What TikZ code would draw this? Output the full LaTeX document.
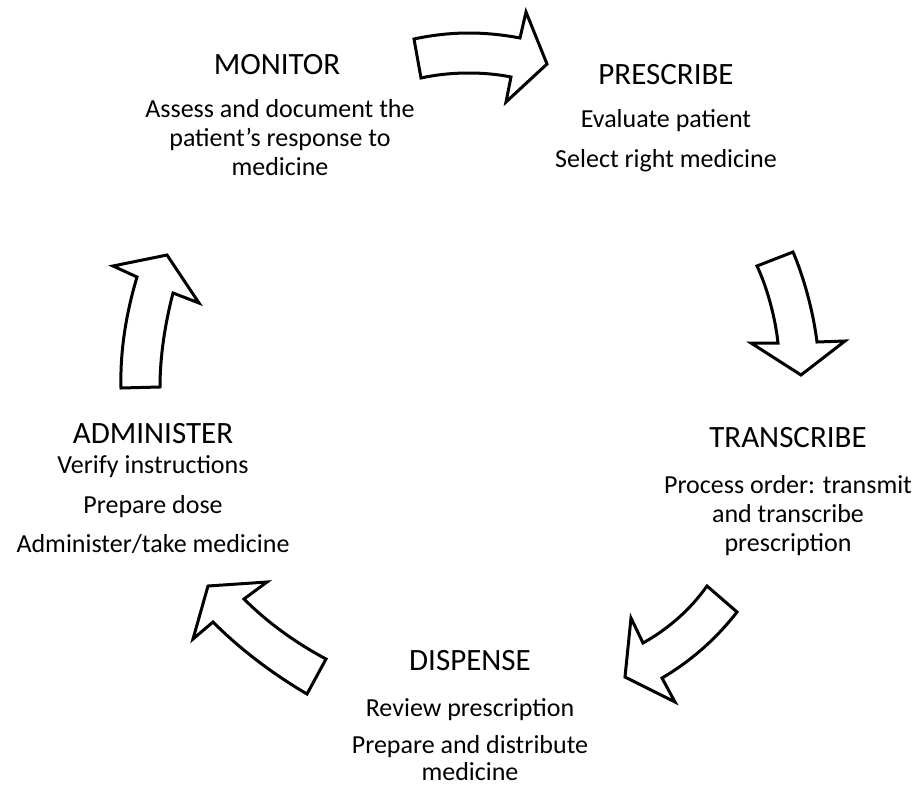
\documentclass[tikz,border=0pt]{standalone}
\usepackage{fontspec}
\setmainfont{Carlito}
\begin{document}
\begin{tikzpicture}[x=1pt,y=-1pt,
  title/.style={font=\fontsize{31}{36}\selectfont, anchor=base, inner sep=0pt},
  body/.style={font=\fontsize{26}{30}\selectfont, anchor=base, inner sep=0pt},
  bigarrow/.style={draw=black, line width=3pt, fill=white, line join=miter}]
\useasboundingbox[fill=white] (0,0) rectangle (915,787);

% arrow 1: MONITOR -> PRESCRIBE
\draw[bigarrow] (414,39) -- (421,78) .. controls (450,71.5) and (484,71.5) .. (511,77)
  -- (506,102) -- (547,64) -- (526,12) -- (520,38)
  .. controls (484,31.2) and (450,31.2) .. (414,39) -- cycle;

% arrow 2: PRESCRIBE -> TRANSCRIBE
\draw[bigarrow] (757,266) -- (793,252) .. controls (803,275) and (813,310) .. (817,342)
  -- (845,341) -- (801,375) -- (751,343) -- (778,343)
  .. controls (775,315) and (766,285) .. (757,266) -- cycle;

% arrow 3: TRANSCRIBE -> DISPENSE
\draw[bigarrow] (707,586) -- (737,612) .. controls (716,639) and (691,661) .. (662,678)
  -- (675,702) -- (625,677) -- (631,618) -- (643,643)
  .. controls (668,629) and (690,610) .. (707,586) -- cycle;

% arrow 4: DISPENSE -> ADMINISTER
\draw[bigarrow] (307,694) .. controls (273,674) and (241,650) .. (213,622)
  -- (193,639) -- (208,586) -- (267,582) -- (244,599)
  .. controls (268,623) and (296,643) .. (326,659) -- cycle;

% arrow 5: ADMINISTER -> MONITOR
\draw[bigarrow] (121,388) -- (160,387) .. controls (160,356) and (165,324) .. (173,293)
  -- (199,303) -- (167,255) -- (113,266) -- (137,277)
  .. controls (126,314) and (120,351) .. (121,388) -- cycle;

% MONITOR
\node[title] (monT) at (277,74) {MONITOR};
\node[body] (mon1) at (280,117) {Assess and document the};
\node[body] (mon2) at (280,146) {patient's response to};
\node[body] (mon3) at (280,175) {medicine};

% PRESCRIBE
\node[title] (preT) at (666,84) {PRESCRIBE};
\node[body] (pre1) at (666,127) {Evaluate patient};
\node[body] (pre2) at (666,167) {Select right medicine};

% TRANSCRIBE
\node[title] (traT) at (788,447) {TRANSCRIBE};
\node[body] (tra1) at (788,493) {Process order: transmit};
\node[body] (tra2) at (788,522) {and transcribe};
\node[body] (tra3) at (788,551) {prescription};

% DISPENSE
\node[title] (disT) at (470,670) {DISPENSE};
\node[body] (dis1) at (470,716) {Review prescription};
\node[body] (dis2) at (470,753) {Prepare and distribute};
\node[body] (dis3) at (470,780) {medicine};

% ADMINISTER
\node[title] (admT) at (153,443) {ADMINISTER};
\node[body] (adm1) at (153,473) {Verify instructions};
\node[body] (adm2) at (153,513) {Prepare dose};
\node[body] (adm3) at (153,552) {Administer/take medicine};
\end{tikzpicture}
\end{document}
